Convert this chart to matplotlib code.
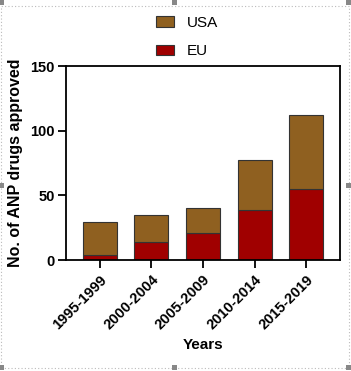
import matplotlib.pyplot as plt
from matplotlib.patches import Rectangle, Patch
import numpy as np

plt.rcParams['font.family'] = ['Liberation Sans', 'DejaVu Sans']

periods = ['1995-1999', '2000-2004', '2005-2009', '2010-2014', '2015-2019']
eu = [4, 14, 21, 39, 55]
usa = [25, 21, 19, 38, 57]

usa_color = '#8F6020'
eu_color = '#A00000'

fig = plt.figure(figsize=(3.51, 3.71), dpi=100)
ax = fig.add_axes([66/351, 1 - 260/371, 274/351, 194/371])

x = np.arange(len(periods))
ax.bar(x, eu, width=0.66, color=eu_color, edgecolor='#333333', linewidth=0.8)
ax.bar(x, usa, width=0.66, bottom=eu, color=usa_color, edgecolor='#333333', linewidth=0.8)

ax.set_xlim(-0.65, 4.65)
ax.set_ylim(0, 150)
ax.set_yticks([0, 50, 100, 150])
ax.set_xticks(x)
ax.set_xticklabels(periods, rotation=45, ha='right', rotation_mode='anchor')
for lab in ax.get_xticklabels() + ax.get_yticklabels():
    lab.set_fontweight('bold')
    lab.set_fontsize(10.5)
for sp in ax.spines.values():
    sp.set_linewidth(1.3)
ax.tick_params(axis='both', width=1.3, length=6, pad=2)
ax.tick_params(axis='x', pad=3)

ax.set_ylabel('No. of ANP drugs approved', fontsize=11.5, fontweight='bold', labelpad=5)
ax.set_xlabel('Years', fontsize=11, fontweight='bold', labelpad=4)

handles = [Patch(facecolor=usa_color, edgecolor='#333333', linewidth=0.8),
           Patch(facecolor=eu_color, edgecolor='#333333', linewidth=0.8)]
fig.legend(handles, ['USA', 'EU'], loc='center', bbox_to_anchor=(187/351, 1 - 37/371),
           frameon=False, fontsize=11, handlelength=1.2, handleheight=0.7,
           labelspacing=0.95, handletextpad=0.8)

# selection frame of the screenshot
fig.add_artist(Rectangle((1/351, 3/371), 348/351, 365/371 - 3/371 + 0.0, transform=fig.transFigure,
                         fill=False, edgecolor='#bbbbbb', linestyle=(0, (1, 2)), linewidth=0.8))
for hx, hy in [(1, 2), (174, 2), (348, 2), (1, 185), (348, 185), (1, 367), (174, 367), (348, 367)]:
    fig.add_artist(Rectangle(((hx - 2.5)/351, 1 - (hy + 2.5)/371), 5/351, 5/371,
                             transform=fig.transFigure, facecolor='#888888', edgecolor='none'))

fig.savefig('out.png', dpi=100)
